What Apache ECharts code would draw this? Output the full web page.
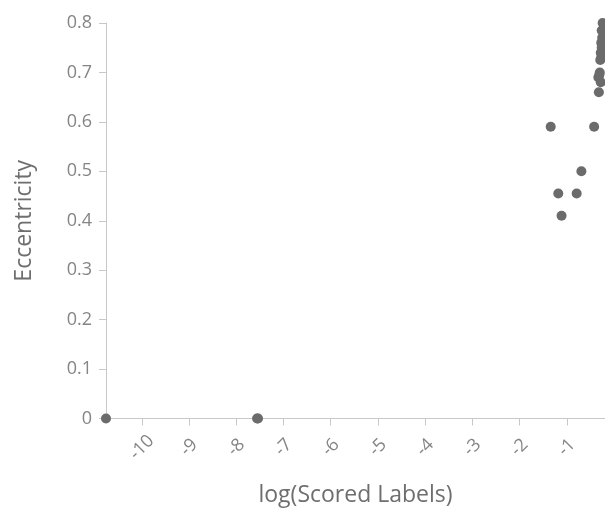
<!DOCTYPE html>
<html>
<head>
<meta charset="utf-8">
<script src="https://cdn.jsdelivr.net/npm/echarts@6/dist/echarts.min.js"></script>
<style>html,body{margin:0;padding:0;background:#fff}#c{width:605px;height:522px}</style>
</head>
<body>
<div id="c"></div>
<script>
const xTicks = [-10, -9, -8, -7, -6, -5, -4, -3, -2, -1];
const logScored = [-10.76, -7.56, -7.54, -1.34, -0.42, -0.69, -1.18, -0.79, -1.11,
  -0.24, -0.26, -0.25, -0.27, -0.26, -0.28, -0.27, -0.29, -0.30, -0.33, -0.28, -0.32, -0.31];
const eccentricity = [0, 0, 0, 0.59, 0.59, 0.50, 0.455, 0.455, 0.41,
  0.80, 0.785, 0.77, 0.76, 0.75, 0.74, 0.73, 0.725, 0.70, 0.69, 0.68, 0.66, 0.695];

const points = logScored.map((x, i) => [x, eccentricity[i]]);
const chart = echarts.init(document.getElementById('c'));
const txt = '#858585';
const font = '"Open Sans", "Noto Sans", sans-serif';
chart.setOption({
  animation: false,
  grid: { left: 106, right: 0, top: 23, bottom: 103.5, containLabel: false },
  xAxis: {
    type: 'value', min: -10.76, max: -0.19,
    name: 'log(Scored Labels)', nameLocation: 'middle', nameGap: 65,
    nameTextStyle: { color: '#6e6e6e', fontSize: 23, fontFamily: font },
    axisLine: { show: true, lineStyle: { color: '#c8c8c8' } },
    axisTick: { show: true, length: 7, lineStyle: { color: '#c8c8c8' }, customValues: xTicks },
    splitLine: { show: false },
    axisLabel: { customValues: xTicks, rotate: 45, align: 'center', verticalAlign: 'middle', margin: 29,
      color: txt, fontSize: 18, fontFamily: font, formatter: v => String(v) }
  },
  yAxis: {
    type: 'value', min: 0, max: 0.8, interval: 0.1,
    name: 'Eccentricity', nameLocation: 'middle', nameGap: 70,
    nameTextStyle: { color: '#6e6e6e', fontSize: 23, fontFamily: font },
    axisLine: { show: true, lineStyle: { color: '#c8c8c8' } },
    axisTick: { show: true, length: 7, lineStyle: { color: '#c8c8c8' } },
    splitLine: { show: false },
    axisLabel: { color: txt, fontSize: 18, fontFamily: font, margin: 14,
      formatter: v => String(Math.round(v * 10) / 10) }
  },
  series: [{
    type: 'scatter', data: points, symbolSize: 10, clip: false,
    itemStyle: { color: '#6b6b6b', opacity: 1 }
  }]
});
</script>
</body>
</html>
